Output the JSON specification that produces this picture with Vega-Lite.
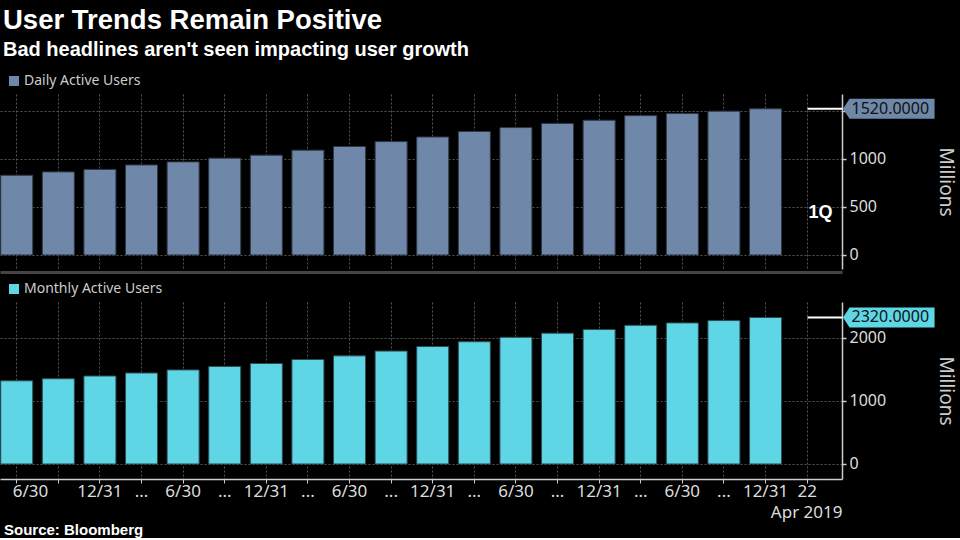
{
  "$schema": "https://vega.github.io/schema/vega-lite/v6.json",
  "background": "#000000",
  "padding": {"left": 0, "top": 6, "right": 5, "bottom": 0},
  "title": {
    "text": "User Trends Remain Positive",
    "subtitle": "Bad headlines aren't seen impacting user growth",
    "anchor": "start",
    "frame": "group",
    "dx": 3,
    "font": "Liberation Sans",
    "fontSize": 27.5,
    "fontWeight": "bold",
    "color": "#ffffff",
    "subtitleFont": "Liberation Sans",
    "subtitleFontSize": 20,
    "subtitleFontWeight": "bold",
    "subtitleColor": "#ffffff",
    "subtitlePadding": 6,
    "offset": 14
  },
  "datasets": {
    "users": [
      {"quarter": "2014-06-30", "series": "Daily Active Users", "value": 829},
      {"quarter": "2014-09-30", "series": "Daily Active Users", "value": 864},
      {"quarter": "2014-12-31", "series": "Daily Active Users", "value": 890},
      {"quarter": "2015-03-31", "series": "Daily Active Users", "value": 936},
      {"quarter": "2015-06-30", "series": "Daily Active Users", "value": 968},
      {"quarter": "2015-09-30", "series": "Daily Active Users", "value": 1007},
      {"quarter": "2015-12-31", "series": "Daily Active Users", "value": 1038},
      {"quarter": "2016-03-31", "series": "Daily Active Users", "value": 1090},
      {"quarter": "2016-06-30", "series": "Daily Active Users", "value": 1128},
      {"quarter": "2016-09-30", "series": "Daily Active Users", "value": 1179},
      {"quarter": "2016-12-31", "series": "Daily Active Users", "value": 1227},
      {"quarter": "2017-03-31", "series": "Daily Active Users", "value": 1284},
      {"quarter": "2017-06-30", "series": "Daily Active Users", "value": 1325},
      {"quarter": "2017-09-30", "series": "Daily Active Users", "value": 1368},
      {"quarter": "2017-12-31", "series": "Daily Active Users", "value": 1401},
      {"quarter": "2018-03-31", "series": "Daily Active Users", "value": 1449},
      {"quarter": "2018-06-30", "series": "Daily Active Users", "value": 1471},
      {"quarter": "2018-09-30", "series": "Daily Active Users", "value": 1495},
      {"quarter": "2018-12-31", "series": "Daily Active Users", "value": 1520},
      {"quarter": "2014-06-30", "series": "Monthly Active Users", "value": 1317},
      {"quarter": "2014-09-30", "series": "Monthly Active Users", "value": 1350},
      {"quarter": "2014-12-31", "series": "Monthly Active Users", "value": 1393},
      {"quarter": "2015-03-31", "series": "Monthly Active Users", "value": 1441},
      {"quarter": "2015-06-30", "series": "Monthly Active Users", "value": 1490},
      {"quarter": "2015-09-30", "series": "Monthly Active Users", "value": 1545},
      {"quarter": "2015-12-31", "series": "Monthly Active Users", "value": 1591},
      {"quarter": "2016-03-31", "series": "Monthly Active Users", "value": 1654},
      {"quarter": "2016-06-30", "series": "Monthly Active Users", "value": 1712},
      {"quarter": "2016-09-30", "series": "Monthly Active Users", "value": 1788},
      {"quarter": "2016-12-31", "series": "Monthly Active Users", "value": 1860},
      {"quarter": "2017-03-31", "series": "Monthly Active Users", "value": 1936},
      {"quarter": "2017-06-30", "series": "Monthly Active Users", "value": 2006},
      {"quarter": "2017-09-30", "series": "Monthly Active Users", "value": 2072},
      {"quarter": "2017-12-31", "series": "Monthly Active Users", "value": 2129},
      {"quarter": "2018-03-31", "series": "Monthly Active Users", "value": 2196},
      {"quarter": "2018-06-30", "series": "Monthly Active Users", "value": 2234},
      {"quarter": "2018-09-30", "series": "Monthly Active Users", "value": 2271},
      {"quarter": "2018-12-31", "series": "Monthly Active Users", "value": 2320}
    ]
  },
  "data": {"name": "users"},
  "spacing": 33,
  "bounds": "flush",
  "resolve": {"scale": {"color": "independent"}, "legend": {"color": "independent"}},
  "vconcat": [
    {
      "width": 842,
      "height": 175,
      "layer": [
        {
          "transform": [{"filter": "datum.series == 'Daily Active Users'"}],
          "mark": {"type": "bar", "stroke": "#2e3744", "strokeWidth": 1},
          "encoding": {
            "x": {
              "field": "quarter", "type": "ordinal",
              "scale": {
                "domain": ["2014-06-30","2014-09-30","2014-12-31","2015-03-31","2015-06-30","2015-09-30","2015-12-31","2016-03-31","2016-06-30","2016-09-30","2016-12-31","2017-03-31","2017-06-30","2017-09-30","2017-12-31","2018-03-31","2018-06-30","2018-09-30","2018-12-31","2019-04-22"],
                "paddingInner": 0.23, "paddingOuter": 0.235, "align": 0.036, "round": false
              },
              "axis": {
                "title": null, "labels": false, "ticks": false,
                "domain": true, "domainColor": "#444444", "domainWidth": 3, "offset": 3,
                "grid": true, "gridColor": "#555555", "gridDash": [2, 2], "gridWidth": 1,
                "bandPosition": 0.5
              }
            },
            "y": {
              "field": "value", "type": "quantitative", "stack": null,
              "scale": {"domain": [-146, 1674], "nice": false, "zero": false},
              "axis": {
                "orient": "right",
                "values": [0, 250, 500, 750, 1000, 1250, 1500],
                "format": "d",
                "labelExpr": "datum.value % 500 == 0 && datum.value != 1500 ? datum.label : ''",
                "grid": true, "gridColor": "#555555", "gridDash": [2, 2], "gridWidth": 1,
                "gridOpacity": {"condition": {"test": "datum.value % 500 == 0", "value": 1}, "value": 0},
                "tickSize": 4, "tickColor": "#cccccc", "tickWidth": 1.5,
                "domainColor": "#cccccc", "domainWidth": 1.5,
                "labelFont": "Noto Sans", "labelFontSize": 16, "labelColor": "#dddddd", "labelPadding": 3,
                "title": "Millions", "titleAngle": 90, "titleFont": "Noto Sans", "titleFontSize": 19,
                "titleFontWeight": "normal", "titleColor": "#cccccc", "titlePadding": 50
              }
            },
            "color": {
              "field": "series", "type": "nominal",
              "scale": {"domain": ["Daily Active Users"], "range": ["#6f87a8"]},
              "legend": {
                "orient": "none", "legendX": 7, "legendY": -20, "title": null,
                "symbolType": "square", "symbolSize": 100, "symbolStrokeWidth": 0,
                "labelFont": "Noto Sans", "labelFontSize": 14, "labelColor": "#cccccc", "labelOffset": 3,
                "padding": 0
              }
            }
          }
        },
        {
          "transform": [{"filter": "datum.series == 'Daily Active Users' && datum.quarter == '2018-12-31'"}],
          "mark": {"type": "point", "shape": "M4.2,0L7.7,0", "size": 400, "filled": false, "stroke": "#ffffff", "strokeWidth": 2, "opacity": 1},
          "encoding": {
            "x": {"field": "quarter", "type": "ordinal"},
            "y": {"field": "value", "type": "quantitative"}
          }
        },
        {
          "transform": [{"filter": "datum.series == 'Daily Active Users' && datum.quarter == '2018-12-31'"}],
          "mark": {"type": "point", "shape": "M7.75,0L8.4,-1L16.9,-1L16.9,1L8.4,1Z", "size": 400, "filled": true, "fill": "#6f87a8", "strokeWidth": 0, "opacity": 1},
          "encoding": {
            "x": {"field": "quarter", "type": "ordinal"},
            "y": {"field": "value", "type": "quantitative"}
          }
        },
        {
          "transform": [{"filter": "datum.series == 'Daily Active Users' && datum.quarter == '2018-12-31'"}],
          "mark": {"type": "text", "align": "left", "baseline": "middle", "dx": 86, "font": "Noto Sans", "fontSize": 16, "color": "#111111"},
          "encoding": {
            "x": {"field": "quarter", "type": "ordinal"},
            "y": {"field": "value", "type": "quantitative"},
            "text": {"field": "value", "type": "quantitative", "format": ".4f"}
          }
        },
        {
          "transform": [{"filter": "datum.series == 'Daily Active Users' && datum.quarter == '2018-12-31'"}],
          "mark": {"type": "text", "text": "1Q", "align": "center", "baseline": "middle", "dx": 55, "font": "Liberation Sans", "fontSize": 18, "fontWeight": "bold", "color": "#ffffff"},
          "encoding": {
            "x": {"field": "quarter", "type": "ordinal"},
            "y": {"datum": 440, "type": "quantitative"}
          }
        }
      ]
    },
    {
      "width": 842,
      "height": 177,
      "title": {"text": "Source: Bloomberg", "orient": "bottom", "anchor": "start", "frame": "group", "dx": 4, "font": "Liberation Sans", "fontSize": 15, "fontWeight": "bold", "color": "#ffffff", "offset": 3},
      "layer": [
        {
          "transform": [{"filter": "datum.series == 'Monthly Active Users'"}],
          "mark": {"type": "bar", "stroke": "#2e4a50", "strokeWidth": 1},
          "encoding": {
            "x": {
              "field": "quarter", "type": "ordinal",
              "scale": {
                "domain": ["2014-06-30","2014-09-30","2014-12-31","2015-03-31","2015-06-30","2015-09-30","2015-12-31","2016-03-31","2016-06-30","2016-09-30","2016-12-31","2017-03-31","2017-06-30","2017-09-30","2017-12-31","2018-03-31","2018-06-30","2018-09-30","2018-12-31","2019-04-22"],
                "paddingInner": 0.23, "paddingOuter": 0.235, "align": 0.036, "round": false
              },
              "axis": {
                "title": "Apr 2019", "titleAnchor": "end", "titleAlign": "right", "titleFont": "Noto Sans",
                "titleFontSize": 17, "titleFontWeight": "normal", "titleColor": "#dddddd", "titlePadding": 5,
                "labelExpr": "datum.value == '2019-04-22' ? '22' : datum.value == '2014-09-30' ? '' : indexof(datum.value, '-06-30') > 0 ? '6/30' : indexof(datum.value, '-12-31') > 0 ? '12/31' : '...'",
                "labelFont": "Noto Sans", "labelFontSize": 17, "labelColor": "#dddddd", "labelAngle": 0,
                "labelPadding": 0, "labelOverlap": false, "labelFlush": 20, "labelFlushOffset": 4,
                "ticks": true, "tickSize": 4, "tickColor": "#cccccc", "tickWidth": 1,
                "domain": true, "domainColor": "#cccccc", "domainWidth": 1.5,
                "grid": true, "gridColor": "#555555", "gridDash": [2, 2], "gridWidth": 1,
                "bandPosition": 0.5
              }
            },
            "y": {
              "field": "value", "type": "quantitative", "stack": null,
              "scale": {"domain": [-238, 2565], "nice": false, "zero": false},
              "axis": {
                "orient": "right",
                "values": [0, 500, 1000, 1500, 2000, 2500],
                "format": "d",
                "labelExpr": "datum.value % 1000 == 0 ? datum.label : ''",
                "grid": true, "gridColor": "#555555", "gridDash": [2, 2], "gridWidth": 1,
                "gridOpacity": {"condition": {"test": "datum.value % 1000 == 0", "value": 1}, "value": 0},
                "tickSize": 4, "tickColor": "#cccccc", "tickWidth": 1.5,
                "domainColor": "#cccccc", "domainWidth": 1.5,
                "labelFont": "Noto Sans", "labelFontSize": 16, "labelColor": "#dddddd", "labelPadding": 3,
                "title": "Millions", "titleAngle": 90, "titleFont": "Noto Sans", "titleFontSize": 19,
                "titleFontWeight": "normal", "titleColor": "#cccccc", "titlePadding": 50
              }
            },
            "color": {
              "field": "series", "type": "nominal",
              "scale": {"domain": ["Monthly Active Users"], "range": ["#5fd6e6"]},
              "legend": {
                "orient": "none", "legendX": 7, "legendY": -20, "title": null,
                "symbolType": "square", "symbolSize": 100, "symbolStrokeWidth": 0,
                "labelFont": "Noto Sans", "labelFontSize": 14, "labelColor": "#cccccc", "labelOffset": 3,
                "padding": 0
              }
            }
          }
        },
        {
          "transform": [{"filter": "datum.series == 'Monthly Active Users' && datum.quarter == '2018-12-31'"}],
          "mark": {"type": "point", "shape": "M4.2,0L7.7,0", "size": 400, "filled": false, "stroke": "#ffffff", "strokeWidth": 2, "opacity": 1},
          "encoding": {
            "x": {"field": "quarter", "type": "ordinal"},
            "y": {"field": "value", "type": "quantitative"}
          }
        },
        {
          "transform": [{"filter": "datum.series == 'Monthly Active Users' && datum.quarter == '2018-12-31'"}],
          "mark": {"type": "point", "shape": "M7.75,0L8.4,-1L16.9,-1L16.9,1L8.4,1Z", "size": 400, "filled": true, "fill": "#5fd6e6", "strokeWidth": 0, "opacity": 1},
          "encoding": {
            "x": {"field": "quarter", "type": "ordinal"},
            "y": {"field": "value", "type": "quantitative"}
          }
        },
        {
          "transform": [{"filter": "datum.series == 'Monthly Active Users' && datum.quarter == '2018-12-31'"}],
          "mark": {"type": "text", "align": "left", "baseline": "middle", "dx": 86, "font": "Noto Sans", "fontSize": 16, "color": "#111111"},
          "encoding": {
            "x": {"field": "quarter", "type": "ordinal"},
            "y": {"field": "value", "type": "quantitative"},
            "text": {"field": "value", "type": "quantitative", "format": ".4f"}
          }
        }
      ]
    }
  ],
  "config": {
    "view": {"stroke": null},
    "axis": {"labelFont": "Noto Sans"}
  }
}
